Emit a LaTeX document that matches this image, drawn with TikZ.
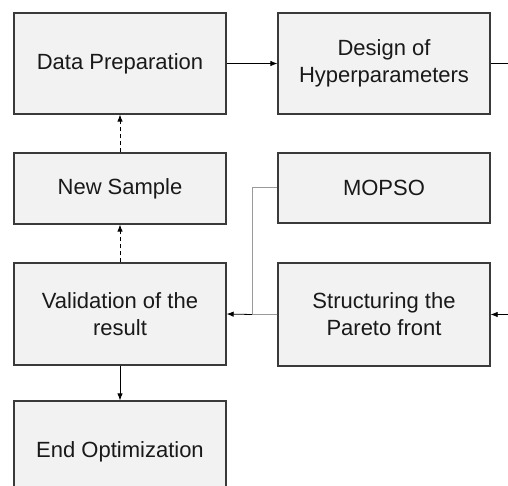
\documentclass[tikz,border=0pt]{standalone}
\usepackage{fontspec}
\setmainfont{Liberation Sans}
\usetikzlibrary{arrows.meta}
\definecolor{boxfill}{HTML}{F2F2F2}
\definecolor{boxline}{HTML}{3A3A3A}
\definecolor{feedline}{HTML}{9A9A9A}
\tikzset{
  stagebox/.style={draw=boxline, line width=1.3pt, fill=boxfill,
    minimum width=212pt, inner sep=0pt, align=center,
    font=\fontsize{22}{27}\selectfont, text=black!90},
  flow/.style={draw=black, line width=0.8pt, -{Latex[length=7pt,width=5.5pt]}},
  loopback/.style={flow, dashed, dash pattern=on 4pt off 3pt},
  feed/.style={draw=feedline, line width=1pt}
}
\begin{document}
\begin{tikzpicture}[x=1pt,y=-1pt]
  \useasboundingbox (0,0) rectangle (508,486);
  \begin{scope}
    \clip (0,0) rectangle (508,486);
    % left column
    \node[stagebox, minimum height=101pt] (dp) at (120,63.5) {Data Preparation};
    \node[stagebox, minimum height=71pt] (ns) at (120,188.5) {New Sample};
    \node[stagebox, minimum height=102pt] (va) at (120,314) {Validation of the\\result};
    \node[stagebox, minimum height=102pt] (eo) at (120,452) {End Optimization};
    % right column
    \node[stagebox, minimum height=101pt] (dh) at (384,63.5) {Design of\\Hyperparameters};
    \node[stagebox, minimum height=70pt] (mo) at (384,188) {MOPSO};
    \node[stagebox, minimum height=103pt] (sp) at (384,314.5) {Structuring the\\Pareto front};
    % free ends at the right border and the merge point
    \coordinate (rout) at (508,63.5);
    \coordinate (rin) at (508,314.5);
    \coordinate (join) at (252,314.5);
    % connectors
    \draw[flow] (dp.east) -- (dh.west);
    \draw[draw=black, line width=0.8pt] (dh.east) -- (rout);
    \draw[flow] (rin) -- (sp.east);
    \draw[feed] (mo.west) -| (join);
    \draw[feed] (sp.west) -- (join);
    \draw[flow] (join) -- (va.east);
    \draw[loopback] (va.north) -- (ns.south);
    \draw[loopback] (ns.north) -- (dp.south);
    \draw[flow] (va.south) -- (eo.north);
  \end{scope}
\end{tikzpicture}
\end{document}
